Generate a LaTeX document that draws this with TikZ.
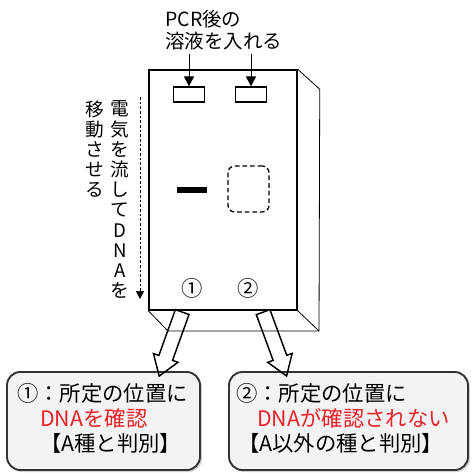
\documentclass[tikz,border=0pt]{standalone}
\usepackage{fontspec}
\newfontfamily\jpfont{Noto Sans CJK JP}
\usetikzlibrary{arrows.meta,shapes.arrows,shadows,fit}
\definecolor{hitred}{RGB}{232,32,40}
\definecolor{boxgray}{RGB}{243,243,243}

\begin{document}
\begin{tikzpicture}[
  x=0.75pt, y=-0.75pt,
  every node/.style={font=\jpfont},
  gelface/.style={draw, line width=1.1pt, inner sep=0pt},
  geledge/.style={line width=0.6pt},
  well/.style={draw, line width=0.9pt, minimum width=23.25pt, minimum height=11.25pt, inner sep=0pt},
  band/.style={fill=black, minimum width=22.5pt, minimum height=4.5pt, inner sep=0pt},
  noband/.style={draw, dash pattern=on 3.5pt off 2.2pt, line width=1pt, rounded corners=5pt, minimum width=30.75pt, minimum height=34.5pt, inner sep=0pt},
  load/.style={-{Triangle[width=7.5pt,length=7.5pt]}, line width=0.7pt, shorten <=3pt},
  flow/.style={dash pattern=on 2pt off 1.5pt, line width=0.4pt, -{Triangle[width=6pt,length=6pt]}},
  vchar/.style={inner sep=0pt, font=\jpfont\fontsize{14}{16}\selectfont},
  hollow/.style={single arrow, draw, line width=1.1pt, inner xsep=0pt, inner ysep=4.9pt, minimum width=18.5pt, minimum height=51pt,
    single arrow head extend=4.3pt, single arrow tip angle=68},
  resbox/.style={draw=black!80, line width=1.4pt, fill=boxgray, rounded corners=10pt, inner sep=0pt,
    drop shadow={shadow xshift=1.5pt, shadow yshift=-1.5pt, opacity=0.35}},
  restext/.style={anchor=base west, inner sep=0pt, font=\jpfont\fontsize{16}{19}\selectfont},
  ]
  \useasboundingbox (0,0) rectangle (471,473);

  % gel seen from the front, with its side and bottom faces
  \node[gelface, fit={(149,70) (297,310)}] (gel) {};
  \draw[geledge] (gel.north east) -- ++(22,20) -- (319,331) -- (168,331) -- (gel.south west);
  \draw[geledge] (gel.south east) -- (319,331);

  \node[well] (w1) at (189,94.5) {};
  \node[well] (w2) at (251,94.5) {};
  \node[band] (b1) at (192,190) {};
  \node[noband] (b2) at (248.5,189) {};
  \node[font=\jpfont\fontsize{16}{19}\selectfont] (n1) at (192,288) {①};
  \node[font=\jpfont\fontsize{16}{19}\selectfont] (n2) at (248,288) {②};

  \node[anchor=north west, align=left, inner sep=0pt, font=\jpfont\fontsize{14.6}{16.5}\selectfont] (pcr) at (165,10) {PCR後の\\溶液を入れる};
  \draw[load] (w1.north |- pcr.south) -- (w1.north);
  \draw[load] (w2.north |- pcr.south) -- (w2.north);

  % running direction, written top to bottom
  \foreach \c [count=\i] in {電,気,を,流,し,て,D,N,A,を}
    \node[vchar] (v\i) at (120,{109+20.2*(\i-1)}) {\c};
  \foreach \c [count=\i] in {移,動,さ,せ,る}
    \node[vchar] (u\i) at (95,{109+20.2*(\i-1)}) {\c};
  \coordinate (flowtop) at (140,97);
  \coordinate (flowend) at (140,299);
  \draw[flow] (flowtop) -- (flowend);

  % results
  \node[resbox, fit={(7,372) (200,470)}] (res1) {};
  \node[resbox, fit={(229,372) (468,470)}] (res2) {};
  \node[hollow, rotate=-109.8] (a1) at (172.5,339) {};
  \node[hollow, rotate=-69.8] (a2) at (273,339) {};

  \node[restext] (r1a) at (17,401) {①：所定の位置に};
  \node[restext, text=hitred] (r1b) at (40,426) {DNAを確認};
  \node[restext] (r1c) at (40,451) {【A種と判別】};
  \node[restext] (r2a) at (236,401) {②：所定の位置に};
  \node[restext, text=hitred] (r2b) at (257,426) {DNAが確認されない};
  \node[restext] (r2c) at (238,451) {【A以外の種と判別】};
\end{tikzpicture}
\end{document}
